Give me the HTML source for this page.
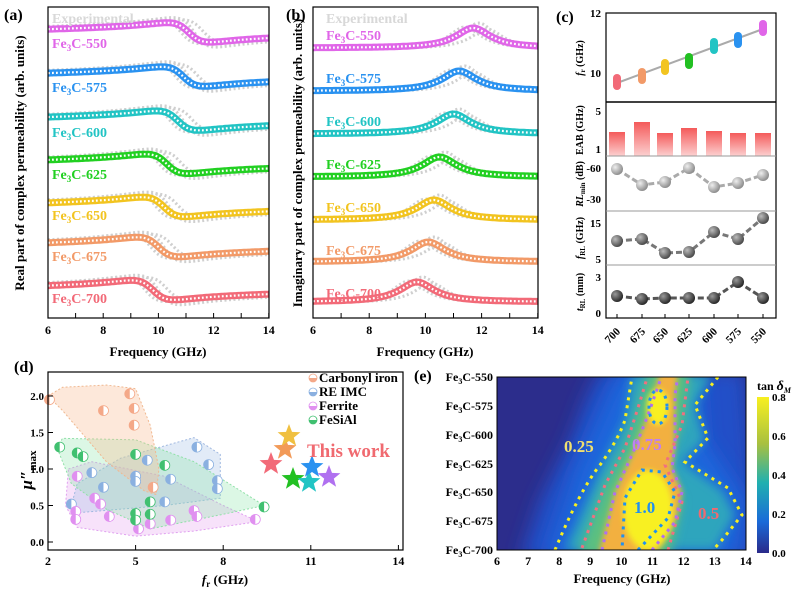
<!DOCTYPE html>
<html><head><meta charset="utf-8">
<style>
html,body{margin:0;padding:0;background:#fff;}
svg{display:block;font-family:"Liberation Serif",serif;font-weight:bold;}
</style></head>
<body>
<svg id="s" width="799" height="593" viewBox="0 0 799 593" xmlns="http://www.w3.org/2000/svg">
<defs>
<linearGradient id="bar" x1="0" y1="0" x2="0" y2="1"><stop offset="0" stop-color="#f45a5a"/><stop offset="1" stop-color="#fcd0d0"/></linearGradient>
<radialGradient id="sph1" cx="0.35" cy="0.35" r="0.7"><stop offset="0" stop-color="#eee"/><stop offset="1" stop-color="#888"/></radialGradient>
<radialGradient id="sph2" cx="0.35" cy="0.35" r="0.7"><stop offset="0" stop-color="#bbb"/><stop offset="1" stop-color="#444"/></radialGradient>
<radialGradient id="sph3" cx="0.35" cy="0.35" r="0.7"><stop offset="0" stop-color="#999"/><stop offset="1" stop-color="#222"/></radialGradient>
<linearGradient id="cb" x1="0" y1="1" x2="0" y2="0"><stop offset="0" stop-color="#2a2a8a"/><stop offset="0.2" stop-color="#1a6ad8"/><stop offset="0.45" stop-color="#20b0b0"/><stop offset="0.7" stop-color="#a8c040"/><stop offset="1" stop-color="#f8f020"/></linearGradient>
<filter id="b8" x="-50%" y="-50%" width="200%" height="200%"><feGaussianBlur stdDeviation="9"/></filter>
<filter id="b5" x="-50%" y="-50%" width="200%" height="200%"><feGaussianBlur stdDeviation="5"/></filter>
<filter id="b3" x="-50%" y="-50%" width="200%" height="200%"><feGaussianBlur stdDeviation="3"/></filter>
<clipPath id="ce"><rect x="497" y="377" width="249" height="173"/></clipPath>
<clipPath id="ca"><rect x="48" y="7" width="221" height="311"/></clipPath>
<clipPath id="cbb"><rect x="313" y="7" width="225" height="311"/></clipPath>
</defs>
<g id="ga" clip-path="url(#ca)"></g>
<g id="gb" clip-path="url(#cbb)"></g>
<g id="rest"></g>

<rect x="48" y="7" width="221" height="311" fill="none" stroke="#000" stroke-width="1.2"/>
<rect x="313" y="7" width="225" height="311" fill="none" stroke="#000" stroke-width="1.2"/>
<text x="4" y="20" font-size="16">(a)</text>
<text x="286" y="20" font-size="16">(b)</text>
<text x="52" y="23" font-size="14" fill="#d8d8d8">Experimental</text>
<text x="326" y="23" font-size="14" fill="#d8d8d8">Experimental</text>
<text transform="translate(24,163) rotate(-90)" text-anchor="middle" font-size="13">Real part of complex permeability (arb. units)</text>
<text transform="translate(302,163) rotate(-90)" text-anchor="middle" font-size="13">Imaginary part of complex permeability (arb. units)</text>
<text x="158" y="356" text-anchor="middle" font-size="13">Frequency (GHz)</text>
<text x="425" y="356" text-anchor="middle" font-size="13">Frequency (GHz)</text>

<text x="556" y="22" font-size="16">(c)</text>
<rect x="606" y="13" width="170" height="305" fill="none" stroke="#000" stroke-width="1.2"/>
<line x1="606" y1="102" x2="776" y2="102" stroke="#000" stroke-width="1.5"/>
<line x1="606" y1="156" x2="776" y2="156" stroke="#999"/>
<line x1="606" y1="211" x2="776" y2="211" stroke="#999"/>
<line x1="606" y1="265" x2="776" y2="265" stroke="#999"/>
<g font-size="11" text-anchor="end">
<text x="601" y="17">12</text><text x="601" y="77">10</text>
<text x="601" y="115">5</text><text x="601" y="153">1</text>
<text x="601" y="172">-60</text><text x="601" y="203">-30</text>
<text x="601" y="227">15</text><text x="601" y="263">5</text>
<text x="601" y="281">3</text><text x="601" y="317">0</text>
</g>
<g font-size="10" text-anchor="middle">
<text transform="translate(583,58) rotate(-90)"><tspan font-style="italic">f</tspan><tspan font-size="7" dy="2">r</tspan><tspan dy="-2"> (GHz)</tspan></text>
<text transform="translate(583,130) rotate(-90)">EAB (GHz)</text>
<text transform="translate(583,184) rotate(-90)"><tspan font-style="italic">RL</tspan><tspan font-size="7" dy="2">min</tspan><tspan dy="-2"> (dB)</tspan></text>
<text transform="translate(583,238) rotate(-90)"><tspan font-style="italic">f</tspan><tspan font-size="7" dy="2">RL</tspan><tspan dy="-2"> (GHz)</tspan></text>
<text transform="translate(583,292) rotate(-90)"><tspan font-style="italic">t</tspan><tspan font-size="7" dy="2">RL</tspan><tspan dy="-2"> (mm)</tspan></text>
</g>

<text x="14" y="372" font-size="16">(d)</text>
<rect x="48" y="372" width="355" height="178" fill="none" stroke="#000" stroke-width="1.2"/>
<text transform="translate(32,470) rotate(-90)" text-anchor="middle" font-size="17"><tspan font-style="italic">μ″</tspan><tspan font-size="11" dy="4">max</tspan></text>
<text x="225" y="584" text-anchor="middle" font-size="13"><tspan font-style="italic">f</tspan><tspan font-size="9" dy="3">r</tspan><tspan dy="-3"> (GHz)</tspan></text>
<text x="307" y="457" font-size="19" fill="#f06a70">This work</text>

<text x="414" y="381" font-size="16">(e)</text>
<g clip-path="url(#ce)">
<rect x="497" y="377" width="249" height="173" fill="#2c2d8c"/>
<polygon filter="url(#b8)" fill="#2050c8" points="600,370 650,370 745,370 760,560 520,560 540,500 570,440 585,400"/>
<polygon filter="url(#b8)" fill="#1f66dc" points="620,370 700,370 705,440 745,500 735,560 545,560 575,470"/>
<polygon filter="url(#b5)" fill="#30b0b8" opacity="0.85" points="565,550 600,470 625,420 632,375 712,375 695,405 705,440 682,462 722,490 735,515 715,550"/>
<polygon filter="url(#b5)" fill="#5cc080" points="578,555 605,485 625,448 638,408 648,372 690,372 682,425 665,465 682,502 670,555"/>
<polygon filter="url(#b3)" fill="#f2b040" points="598,555 615,492 635,448 648,415 660,372 678,372 675,395 675,445 672,468 682,492 675,522 655,555"/>
<ellipse filter="url(#b3)" fill="#f8f020" cx="648" cy="510" rx="25" ry="40"/>
<ellipse filter="url(#b3)" fill="#f8f020" cx="658" cy="407" rx="11" ry="18"/>
<g fill="none" stroke-width="3" stroke-dasharray="3 5">
<path stroke="#f8f020" d="M555,550 Q580,490 600,465 Q618,440 625,420 L632,377"/>
<path stroke="#f8f020" d="M718,377 L695,405 L708,438 L685,462 L728,488 L742,515 L722,540 L713,550"/>
<path stroke="#f07080" d="M582,548 L605,485 L625,448 L638,408 L648,375"/>
<path stroke="#f07080" d="M668,550 L682,502 L665,465 L682,425 L688,377"/>
<path stroke="#b070f0" d="M602,550 L615,492 L635,448 L648,415 L662,375"/>
<path stroke="#b070f0" d="M652,550 L675,522 L682,492 L672,468 L675,445 L675,395 L678,375"/>
<path stroke="#2090f0" d="M638,550 L668,518 L675,492 L662,472 L642,470 L625,498 L622,550"/>
<ellipse stroke="#2090f0" cx="658" cy="407" rx="9" ry="17"/>
</g>
</g>
<rect x="497" y="377" width="249" height="173" fill="none" stroke="#000"/>
<text x="564" y="452" font-size="17" fill="#f0e070">0.25</text>
<text x="632" y="450" font-size="17" fill="#c080f0">0.75</text>
<text x="634" y="513" font-size="17" fill="#2090f0">1.0</text>
<text x="698" y="519" font-size="17" fill="#f06a70">0.5</text>
<g font-size="12" text-anchor="end">
<text x="493" y="381">Fe<tspan font-size="8" dy="3">3</tspan><tspan dy="-3">C-550</tspan></text>
<text x="493" y="410">Fe<tspan font-size="8" dy="3">3</tspan><tspan dy="-3">C-575</tspan></text>
<text x="493" y="439">Fe<tspan font-size="8" dy="3">3</tspan><tspan dy="-3">C-600</tspan></text>
<text x="493" y="468">Fe<tspan font-size="8" dy="3">3</tspan><tspan dy="-3">C-625</tspan></text>
<text x="493" y="496">Fe<tspan font-size="8" dy="3">3</tspan><tspan dy="-3">C-650</tspan></text>
<text x="493" y="525">Fe<tspan font-size="8" dy="3">3</tspan><tspan dy="-3">C-675</tspan></text>
<text x="493" y="554">Fe<tspan font-size="8" dy="3">3</tspan><tspan dy="-3">C-700</tspan></text>
</g>
<text x="622" y="583" text-anchor="middle" font-size="13">Frequency (GHz)</text>
<rect x="757" y="397" width="12" height="156" fill="url(#cb)"/>
<text x="757" y="390" font-size="12">tan <tspan font-style="italic" font-size="14">δ</tspan><tspan font-size="8" dy="3" font-style="italic">M</tspan></text>
<g font-size="11">
<text x="772" y="401">0.8</text><text x="772" y="440">0.6</text><text x="772" y="479">0.4</text><text x="772" y="518">0.2</text><text x="772" y="557">0.0</text>
</g>
</svg>
<script>
var NS="http://www.w3.org/2000/svg",R=document.getElementById('rest');
function el(p,t,a,txt){var e=document.createElementNS(NS,t);for(var k in a)e.setAttribute(k,a[k]);if(txt!=null)e.textContent=txt;p.appendChild(e);return e;}
// name,color,baseA,baseB,f0a,f0b,labelA,labelB
var S=[["550","#e066e8",31,48,11.1,11.7,48,40],["575","#2a92f0",75,91,10.9,11.2,92,83],["600","#22c4c4",119,134,10.7,11.0,137,126],["625","#22d022",162,177,10.3,10.5,179,169],["650","#f2c420",205,220,10.2,10.3,220,212],["675","#f29a68",245,262,10.0,10.1,261,255],["700","#f26a78",288,302,9.8,9.7,303,298]];
function path(fn,x0,sc){var d="";for(var f=6;f<=14.001;f+=0.05){var x=x0+(f-6)*sc,y=fn(f);d+=(d?"L":"M")+x.toFixed(1)+","+y.toFixed(1);}return d;}
var ga=document.getElementById('ga'),gb=document.getElementById('gb');
S.forEach(function(s){
 function re(b,f0,A){return function(f){var d=(f-f0)/0.7;return b-(f-6)*0.5+A*(d/(1+d*d))+A*0.5*(0.5+Math.atan(d)/Math.PI);};}
 function im(b,f0,A,w){return function(f){var d=(f-f0)/w;return b-A/(1+d*d);};}
 [[-0.3,20],[0.2,24],[0.5,18]].forEach(function(o){
  el(ga,'path',{d:path(re(s[2]-2,s[4]+o[0],o[1]),48,27.6),fill:'none',stroke:'#cfcfcf','stroke-width':3,'stroke-dasharray':'2 2.5'});
  el(gb,'path',{d:path(im(s[3]+1,s[5]+o[0],o[1]+2,0.7),313,28.1),fill:'none',stroke:'#cfcfcf','stroke-width':3,'stroke-dasharray':'2 2.5'});
 });
 [[ga,re(s[2],s[4],16),48,27.6],[gb,im(s[3],s[5],20,0.75),313,28.1]].forEach(function(q){
  var d=path(q[1],q[2],q[3]);
  el(q[0],'path',{d:d,fill:'none',stroke:s[1],'stroke-width':7});
  el(q[0],'path',{d:d,fill:'none',stroke:'#fff','stroke-width':2.2,'stroke-dasharray':'1.8 2.2'});
 });
 [[52,s[6]],[326,s[7]]].forEach(function(p){var t=el(R,'text',{x:p[0],y:p[1],'font-size':14,fill:s[1]},"Fe");
  el(t,'tspan',{'font-size':9,dy:3},"3");el(t,'tspan',{dy:-3},"C-"+s[0]);});
});
[[48,27.6],[313,28.1]].forEach(function(a){for(var f=6;f<=14;f++){var x=a[0]+(f-6)*a[1];
 el(R,'line',{x1:x,y1:318,x2:x,y2:313,stroke:'#000'});
 if(f%2==0)el(R,'text',{x:x,y:334,'font-size':12,'text-anchor':'middle'},f);}});
var xs=[617,642,665,689,714,738,763],lab=["700","675","650","625","600","575","550"];
var cols=["#f26a78","#f29a68","#f2c420","#22c022","#22c4c4","#2a92f0","#e066e8"];
var fr=[9.7,9.9,10.2,10.4,10.9,11.1,11.5],eab=[132,122,133,128,131,133,133];
var rl=[169,185,182,168,187,183,175],frl=[241,239,253,252,232,239,218],trl=[296,299,298,298,298,282,298];
el(R,'line',{x1:617,y1:83,x2:763,y2:29,stroke:'#aaa','stroke-width':2});
xs.forEach(function(x,i){var y=13+(12-fr[i])*30;
 el(R,'rect',{x:x-4,y:y-8,width:8,height:16,rx:4,fill:cols[i]});
 el(R,'rect',{x:x-8,y:eab[i],width:16,height:156-eab[i],fill:'url(#bar)'});
 el(R,'text',{transform:'translate('+(x-2)+',338) rotate(-45)','font-size':11,'text-anchor':'middle'},lab[i]);
 el(R,'line',{x1:x,y1:318,x2:x,y2:314,stroke:'#000'});});
[[rl,'#aaa','url(#sph1)'],[frl,'#777','url(#sph2)'],[trl,'#555','url(#sph3)']].forEach(function(r){
 var d="";xs.forEach(function(x,i){d+=(i?"L":"M")+x+","+r[0][i];});
 el(R,'path',{d:d,fill:'none',stroke:r[1],'stroke-width':3,'stroke-dasharray':'6 3'});
 xs.forEach(function(x,i){el(R,'circle',{cx:x,cy:r[0][i],r:6,fill:r[2]});});});
function X(f){return 48+(f-2)*29.2;}function Y(v){return 542-v*73;}
function poly(pts,fill,st){el(R,'polygon',{points:pts.map(function(p){return X(p[0])+","+Y(p[1]);}).join(" "),fill:fill,stroke:st,'stroke-dasharray':'2 2','stroke-linejoin':'round'});}
poly([[2.7,1.0],[3.5,1.1],[6,0.9],[8,0.5],[9.2,0.28],[7,0.15],[5,0.08],[3,0.2],[2.6,0.5]],'rgba(230,160,240,0.3)','#e0a0f0');
poly([[2.8,0.5],[3,0.8],[4.5,1.15],[7,1.43],[7.9,1.2],[7.9,0.6],[6,0.5],[3,0.4]],'rgba(160,190,230,0.3)','#a0b8e0');
poly([[2.3,1.3],[2.5,1.42],[5,1.4],[7,1.1],[9.4,0.5],[8,0.38],[5.5,0.18],[4,0.45],[2.8,0.8]],'rgba(140,230,170,0.3)','#90e0a8');
poly([[2,2.0],[2.5,2.12],[4,2.15],[5,2.1],[5.5,1.6],[5.8,1.0],[5.7,0.65],[5.3,0.7],[4,1.1],[2.5,1.8]],'rgba(250,190,150,0.35)','#f0b890');
function dot(f,v,c){var x=X(f),y=Y(v);el(R,'circle',{cx:x,cy:y,r:5,fill:'#fff',stroke:c,'stroke-width':0.8});
 el(R,'path',{d:'M'+x+','+(y-5)+'A5,5 0 0 0 '+x+','+(y+5)+'Z',fill:c});}
[[2.05,1.95],[3.9,1.8],[4.8,2.03],[4.95,1.83],[4.95,1.6],[5.6,0.75]].forEach(function(p){dot(p[0],p[1],'#f4a888');});
[[3.5,0.95],[3.9,0.75],[5.0,0.9],[5.0,0.83],[5.4,1.12],[6.2,0.86],[6,0.55],[7.1,1.3],[7.5,1.06],[7.8,0.84],[7.8,0.73],[2.8,0.52]].forEach(function(p){dot(p[0],p[1],'#8ab0e0');});
[[3,0.9],[3.6,0.6],[3.8,0.52],[4.1,0.35],[2.95,0.42],[2.95,0.31],[5.1,0.18],[5.5,0.25],[6.2,0.3],[7,0.43],[7.1,0.35],[9.1,0.31]].forEach(function(p){dot(p[0],p[1],'#e090f0');});
[[2.4,1.3],[3,1.22],[3.2,1.17],[5,1.2],[6,1.05],[5.5,0.55],[5.5,0.38],[5,0.39],[5,0.3],[9.4,0.48]].forEach(function(p){dot(p[0],p[1],'#40c070');});
function star(cx,cy,r,c){var d="";for(var i=0;i<10;i++){var a=-Math.PI/2+i*Math.PI/5,rr=i%2?r*0.42:r;d+=(i?"L":"M")+(cx+rr*Math.cos(a)).toFixed(1)+","+(cy+rr*Math.sin(a)).toFixed(1);}el(R,'path',{d:d+"Z",fill:c});}
[[271,464,"#f26a78"],[285,449,"#f29a58"],[289,436,"#f0c040"],[293,479,"#22c022"],[309,482,"#22c4c4"],[312,467,"#2a92f0"],[329,477,"#b070f0"]].forEach(function(s){star(s[0],s[1],12,s[2]);});
[2,5,8,11,14].forEach(function(f){el(R,'line',{x1:X(f),y1:550,x2:X(f),y2:545,stroke:'#000'});el(R,'text',{x:X(f),y:565,'font-size':12,'text-anchor':'middle'},f);});
[0,0.5,1,1.5,2].forEach(function(v){el(R,'line',{x1:48,y1:Y(v),x2:53,y2:Y(v),stroke:'#000'});el(R,'text',{x:44,y:Y(v)+4,'font-size':11,'text-anchor':'end'},v.toFixed(1));});
[["Carbonyl iron","#f4a888",382],["RE IMC","#8ab0e0",396],["Ferrite","#e090f0",410],["FeSiAl","#40c070",424]].forEach(function(l){
 var x=313,y=l[2]-4;el(R,'circle',{cx:x,cy:y,r:4,fill:'#fff',stroke:l[1],'stroke-width':0.8});
 el(R,'path',{d:'M'+(x-4)+','+y+'A4,4 0 0 0 '+(x+4)+','+y+'Z',fill:l[1]});
 el(R,'text',{x:319,y:l[2],'font-size':13},l[0]);});
for(var f=6;f<=14;f++){var x=497+(f-6)*31.1;el(R,'line',{x1:x,y1:550,x2:x,y2:546,stroke:'#000'});el(R,'text',{x:x,y:565,'font-size':12,'text-anchor':'middle'},f);}
</script>
</body></html>
